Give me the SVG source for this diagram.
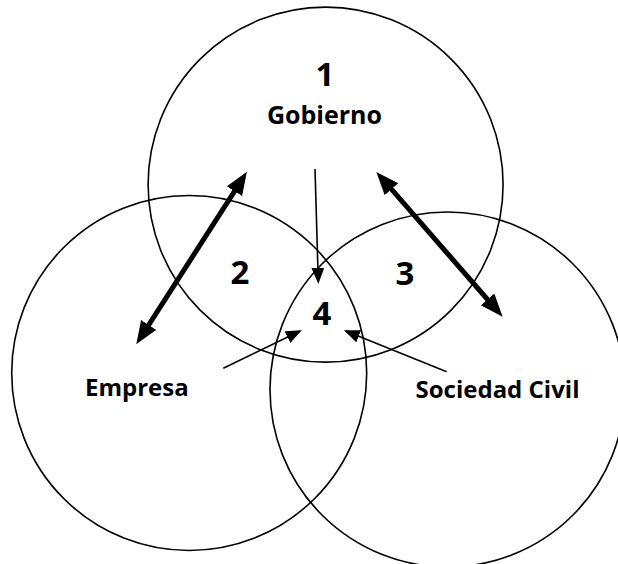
<svg xmlns="http://www.w3.org/2000/svg" width="618" height="564" viewBox="0 0 618 564">
<style>
.c{fill:none;stroke:#000;stroke-width:1.6}
.t{font-family:"Open Sans","Liberation Sans",sans-serif;font-weight:700;fill:#000;text-anchor:middle}
.thin{stroke:#000;stroke-width:1.6;fill:none}
.thick{stroke:#000;stroke-width:5;fill:none}
</style>
<defs>
<marker id="ah" markerUnits="userSpaceOnUse" markerWidth="16" markerHeight="14" refX="14" refY="6.5" orient="auto" viewBox="0 0 16 14">
<path d="M0,0 L16,6.5 L0,13 z" fill="#000"/>
</marker>
<marker id="ahb" markerUnits="userSpaceOnUse" markerWidth="24" markerHeight="20" refX="10" refY="9" orient="auto-start-reverse" viewBox="0 0 24 20">
<path d="M0,0 L23,9 L0,18 z" fill="#000"/>
</marker>
</defs>
<g id="circle-gobierno"><circle class="c" cx="325.6" cy="184.6" r="177.5"/></g>
<g id="circle-empresa"><circle class="c" cx="189.2" cy="373" r="177.5"/></g>
<g id="circle-sociedad"><circle class="c" cx="447.5" cy="389.5" r="177.5"/></g>
<g id="connectors">
<line class="thin" x1="315" y1="169" x2="318.3" y2="281.7" marker-end="url(#ah)"/>
<line class="thin" x1="223.3" y1="368.3" x2="300" y2="331" marker-end="url(#ah)"/>
<line class="thin" x1="446.7" y1="371.7" x2="345.7" y2="331" marker-end="url(#ah)"/>
<line class="thick" x1="143.3" y1="333.4" x2="239.9" y2="182.8" marker-start="url(#ahb)" marker-end="url(#ahb)"/>
<line class="thick" x1="384.9" y1="181.7" x2="494.1" y2="307.0" marker-start="url(#ahb)" marker-end="url(#ahb)"/>
</g>
<g id="labels">
<text class="t" x="325" y="86" font-size="33">1</text>
<text class="t" x="324.5" y="124" font-size="25">Gobierno</text>
<text class="t" x="240" y="284" font-size="33">2</text>
<text class="t" x="405" y="285" font-size="33">3</text>
<text class="t" x="322" y="325" font-size="33">4</text>
<text class="t" x="136.8" y="396" font-size="24">Empresa</text>
<text class="t" x="497.5" y="397.5" font-size="24">Sociedad Civil</text>
</g>
</svg>
